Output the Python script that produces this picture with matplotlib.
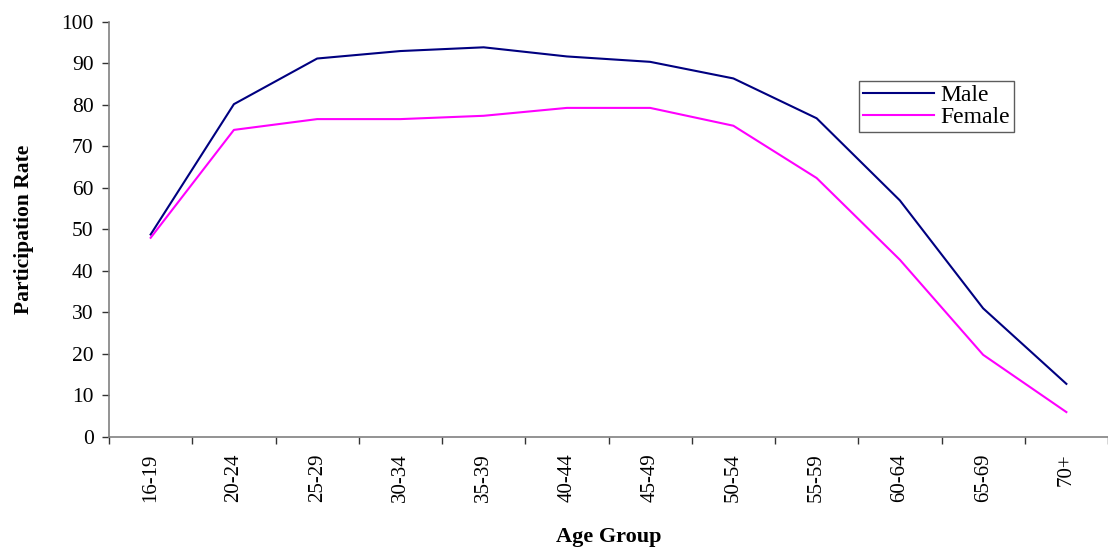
import matplotlib
matplotlib.use("Agg")
import matplotlib.pyplot as plt

# data
age_groups = ["16-19", "20-24", "25-29", "30-34", "35-39", "40-44",
              "45-49", "50-54", "55-59", "60-64", "65-69", "70+"]
male = [48.8, 80.2, 91.2, 93.0, 93.9, 91.7, 90.4, 86.4, 76.8, 57.0, 31.0, 12.8]
female = [48.0, 74.0, 76.6, 76.6, 77.4, 79.3, 79.3, 75.0, 62.4, 42.7, 19.8, 6.0]

plt.rcParams["font.family"] = ["Liberation Serif", "DejaVu Serif"]

fig = plt.figure(figsize=(11.08, 5.5), dpi=100)
ax = fig.add_axes([0.0984, 0.2055, 0.9016, 0.7545])

x = list(range(len(age_groups)))
ax.plot(x, male, color="#000080", linewidth=1.5, label="Male")
ax.plot(x, female, color="#ff00ff", linewidth=1.5, label="Female")

ax.set_xlim(-0.5, len(age_groups) - 0.5)
ax.set_ylim(0, 100)
ax.set_yticks(range(0, 101, 10))
ax.tick_params(axis="y", labelsize=15.5, length=5, width=1, color="#333333", pad=6)

# category labels centred, tick marks between categories (Excel style)
ax.set_xticks(x)
ax.set_xticklabels(age_groups, rotation=90, fontsize=15)
ax.tick_params(axis="x", which="major", length=0, pad=12)
ax.set_xticks([i + 0.5 for i in range(-1, len(age_groups))], minor=True)
ax.tick_params(axis="x", which="minor", length=5, width=1, color="#333333")

for side in ["top", "right"]:
    ax.spines[side].set_visible(False)
for side in ["left", "bottom"]:
    ax.spines[side].set_color("#808080")
    ax.spines[side].set_linewidth(1.2)

ax.set_ylabel("Participation Rate", fontsize=15.5, fontweight="bold", labelpad=20)
ax.set_xlabel("Age Group", fontsize=16, fontweight="bold", labelpad=18)

leg = ax.legend(loc="upper left", bbox_to_anchor=(0.751, 0.858), fontsize=17,
                frameon=True, fancybox=False, borderpad=0.15, handlelength=3.0,
                handletextpad=0.3, labelspacing=0.02, borderaxespad=0)
leg.get_frame().set_edgecolor("#333333")
leg.get_frame().set_linewidth(1)

fig.savefig("out.png", dpi=100)
